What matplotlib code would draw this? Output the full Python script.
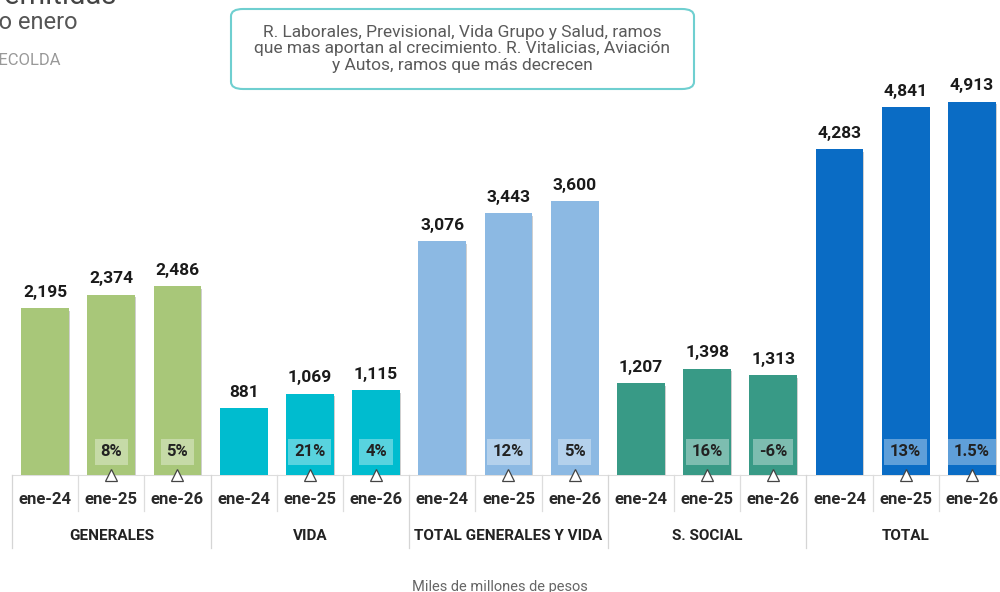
import matplotlib
matplotlib.use("Agg")
import matplotlib.pyplot as plt
from matplotlib.patches import FancyBboxPatch
import matplotlib.patheffects as pe

plt.rcParams['font.family'] = ['Roboto', 'DejaVu Sans']

groups = ["GENERALES", "VIDA", "TOTAL GENERALES Y VIDA", "S. SOCIAL", "TOTAL"]
periods = ["ene-24", "ene-25", "ene-26"]
generales = [2195, 2374, 2486]
vida = [881, 1069, 1115]
total_gv = [3076, 3443, 3600]
s_social = [1207, 1398, 1313]
total = [4283, 4841, 4913]
growth_generales = ["8%", "5%"]
growth_vida = ["21%", "4%"]
growth_total_gv = ["12%", "5%"]
growth_s_social = ["16%", "-6%"]
growth_total = ["13%", "1.5%"]
colors = ["#a8c779", "#00bccf", "#8cb9e3", "#389a86", "#0a6cc5"]

series = [generales, vida, total_gv, s_social, total]
growths = [growth_generales, growth_vida, growth_total_gv, growth_s_social, growth_total]

W, H = 1000, 592
fig = plt.figure(figsize=(W / 100, H / 100), dpi=100)
base_px = 475
ax_left, ax_right = 12, 1005
ax = fig.add_axes([ax_left / W, (H - base_px) / H, (ax_right - ax_left) / W, base_px / H])
ax.set_xlim(-0.5, 14.5)
ax.set_ylim(0, 6250)
ax.axis('off')

def px(d):
    # pixel offset in axes fraction (vertical)
    return d / base_px

tr = ax.get_xaxis_transform()
shadow = [pe.SimplePatchShadow(offset=(0.6, -1.8), shadow_rgbFace='#777777', alpha=0.35), pe.Normal()]

for g, (vals, gr, col) in enumerate(zip(series, growths, colors)):
    xs = [g * 3 + i for i in range(3)]
    bars = ax.bar(xs, vals, width=0.72, color=col, zorder=2)
    for b in bars:
        b.set_path_effects(shadow)
    for x, v in zip(xs, vals):
        ax.annotate(f"{v:,}", (x, v), xytext=(0, 6), textcoords='offset points',
                    ha='center', va='bottom', fontsize=12.5, fontweight='bold', color='#1a1a1a')
    for x, p in zip(xs[1:], gr):
        ax.text(x, px(23), p, transform=tr, ha='center', va='center', fontsize=12,
                fontweight='bold', color='#222222', zorder=4,
                bbox=dict(boxstyle='square,pad=0.35', facecolor='white', alpha=0.35, edgecolor='none'))
        ax.plot([x], [0], marker='^', markersize=8.5, markerfacecolor='white',
                markeredgecolor='#444444', markeredgewidth=0.9, zorder=5, clip_on=False)
    for i, x in enumerate(xs):
        ax.text(x, px(-25), periods[i], transform=tr, ha='center', va='center',
                fontsize=12, fontweight='bold', color='#2a2a2a')
    ax.text(g * 3 + 1, px(-61), groups[g], transform=tr, ha='center', va='center',
            fontsize=11, fontweight='bold', color='#222222')

# baseline and separators
ax.plot([-0.5, 14.5], [0, 0], color='#dddddd', lw=0.8, zorder=1, clip_on=False)
for k in range(16):
    xb = k - 0.5
    if k % 3 == 0:
        ax.plot([xb, xb], [0, px(-73)], transform=tr, color='#d5d5d5', lw=0.9, clip_on=False)
    else:
        ax.plot([xb, xb], [0, px(-36)], transform=tr, color='#dddddd', lw=0.9, clip_on=False)

# annotation box
bx0, by0, bx1, by1 = 231, 9, 694, 89
box = FancyBboxPatch((bx0 / W, 1 - by1 / H), (bx1 - bx0) / W, (by1 - by0) / H,
                     boxstyle='round,pad=0,rounding_size=0.012', transform=fig.transFigure,
                     facecolor='white', edgecolor='#6fcfd0', lw=1.5)
fig.patches.append(box)
fig.text((bx0 + bx1) / 2 / W, 1 - (by0 + by1) / 2 / H,
         "R. Laborales, Previsional, Vida Grupo y Salud, ramos\n"
         "que mas aportan al crecimiento. R. Vitalicias, Aviación\n"
         "y Autos, ramos que más decrecen",
         ha='center', va='center', fontsize=12.5, color='#5a5a5a', linespacing=1.15)

# title texts, cropped at the figure edge as in the reference
fig.text(116 / W, 1 - 4 / H, "Primas emitidas", ha='right', va='baseline',
         fontsize=21, color='#444444')
fig.text(78 / W, 1 - 29 / H, "Acumulado enero", ha='right', va='baseline',
         fontsize=17, color='#555555')
fig.text(60 / W, 1 - 65 / H, "Fuente: FASECOLDA", ha='right', va='baseline',
         fontsize=12, color='#999999')

fig.text(500 / W, 1 - 591 / H, "Miles de millones de pesos", ha='center', va='baseline',
         fontsize=10.5, color='#666666')

fig.savefig("out.png", dpi=100, facecolor='white')
